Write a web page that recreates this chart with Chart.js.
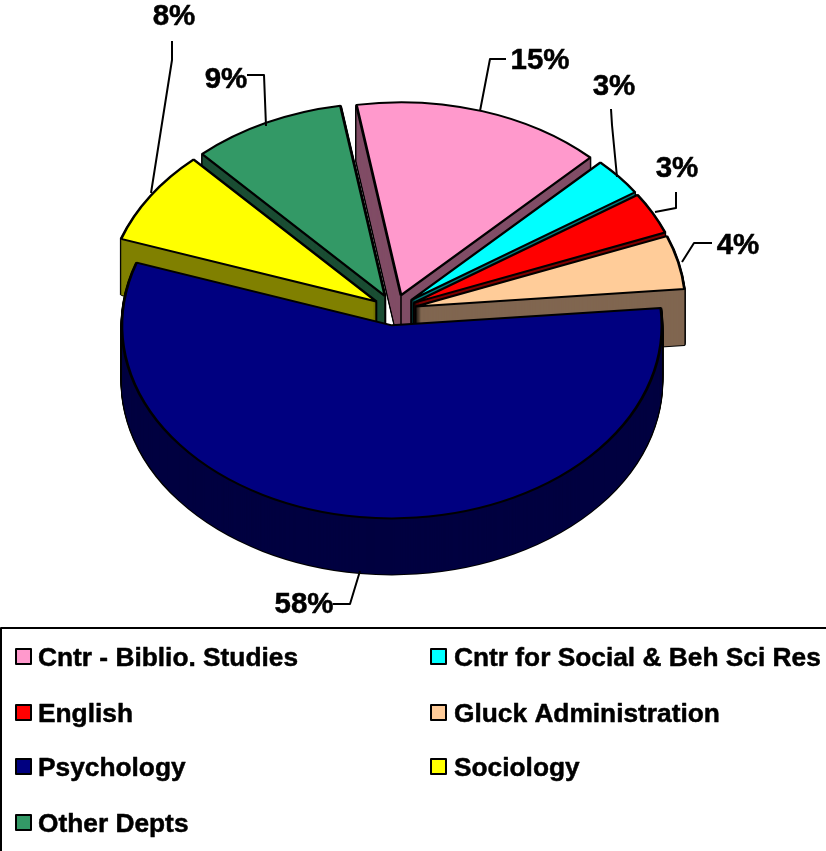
<!DOCTYPE html>
<html>
<head>
<meta charset="utf-8">
<style>html,body{margin:0;padding:0;background:#fff}canvas{display:block}</style>
<script src="https://cdn.jsdelivr.net/npm/chart.js@4"></script>
</head>
<body>
<canvas id="c" width="826" height="851"></canvas>
<script>
const categories = ['Cntr - Biblio. Studies','Cntr for Social & Beh Sci Res','English','Gluck Administration','Psychology','Sociology','Other Depts'];
const values = [15,3.2,3.5,4.5,56.7,7.9,9.2];
const percentLabels = ['15%','3%','3%','4%','58%','8%','9%'];
const faceColors = ['#FF99CC','#00FFFF','#FF0000','#FFCC99','#000080','#FFFF00','#339966'];
const wallColors = ['#804D66','#008080','#800000','#806650','#000040','#808000','#1A4D33'];

const drawOrder = [0,6,1,5,2,3,4];
const SQUASH = 0.715, DEPTH = 56, EXPLODE = 21.6, FONT = '"Liberation Sans", Arial, sans-serif';
const labelLayout = [
  {x:540,y:61,line:[[506,59],[490,59],[480,111]]},
  {x:614,y:87,line:[[611,109],[612,125],[617,177]]},
  {x:677,y:169,line:[[676,192],[676,208],[655,212]]},
  {x:738,y:246,line:[[712,243],[694,243],[682,262]]},
  {x:304,y:605,line:[[333,604],[350,604],[360,571]]},
  {x:174,y:17,line:[[172,41],[172,60],[151,193]]},
  {x:226,y:80,line:[[247,75],[264,75],[266,126]]}
];
const legendCols = [16,431], legendRows = [657,713,767,823];

function place(ctx, arc, k){
  const mid = (arc.startAngle + arc.endAngle) / 2;
  ctx.translate(Math.cos(mid)*EXPLODE, Math.sin(mid)*EXPLODE*SQUASH + k);
  ctx.translate(arc.x, arc.y); ctx.scale(1, SQUASH); ctx.translate(-arc.x, -arc.y);
}
function paint(ctx, arc, k, fill, stroke, width){
  const base = arc.options;
  arc.options = Object.create(base, {
    backgroundColor:{value:fill}, borderColor:{value:stroke}, borderWidth:{value:width}
  });
  ctx.save(); place(ctx, arc, k); arc.draw(ctx); ctx.restore();
  arc.options = base;
}
function apexPoint(arc){
  const mid = (arc.startAngle + arc.endAngle) / 2;
  return [arc.x + Math.cos(mid)*EXPLODE, arc.y + Math.sin(mid)*EXPLODE*SQUASH];
}
const pie3d = {
  id:'pie3d',
  beforeDatasetsDraw(chart){
    const ctx = chart.ctx, arcs = chart.getDatasetMeta(0).data;
    drawOrder.forEach(i => {
      const arc = arcs[i];
      for (let k = DEPTH; k >= 1; k--) paint(ctx, arc, k, '#000', '#000', 2.8);
      for (let k = DEPTH; k >= 1; k--) paint(ctx, arc, k, wallColors[i], wallColors[i], 0);
      const p = apexPoint(arc);
      ctx.save();
      ctx.strokeStyle = '#000'; ctx.lineWidth = 1.5;
      ctx.beginPath(); ctx.moveTo(p[0],p[1]); ctx.lineTo(p[0],p[1]+DEPTH); ctx.stroke();
      ctx.restore();
      paint(ctx, arc, 0, faceColors[i], '#000', 2.8);
    });
    return false;
  },
  afterDraw(chart){
    const ctx = chart.ctx;
    ctx.save();
    ctx.strokeStyle = '#000'; ctx.lineWidth = 2; ctx.lineJoin = 'round';
    labelLayout.forEach(l => {
      ctx.beginPath();
      l.line.forEach((p,j) => j ? ctx.lineTo(p[0],p[1]) : ctx.moveTo(p[0],p[1]));
      ctx.stroke();
    });
    ctx.fillStyle = '#000'; ctx.textAlign = 'center'; ctx.textBaseline = 'middle';
    ctx.font = 'bold 29.5px ' + FONT;
    ctx.lineWidth = 0.5;
    percentLabels.forEach((t,i) => {
      ctx.fillText(t, labelLayout[i].x, labelLayout[i].y);
      ctx.strokeText(t, labelLayout[i].x, labelLayout[i].y);
    });
    // legend box
    ctx.lineWidth = 2;
    ctx.strokeRect(1, 628, 826, 224);
    ctx.textAlign = 'left';
    ctx.font = 'bold 26.3px ' + FONT;
    chart.data.labels.forEach((t,i) => {
      const col = legendCols[i % 2], y = legendRows[Math.floor(i/2)];
      ctx.fillStyle = faceColors[i];
      ctx.lineWidth = 2;
      ctx.fillRect(col, y-8, 15, 15);
      ctx.strokeRect(col, y-8, 15, 15);
      ctx.fillStyle = '#000';
      ctx.lineWidth = 0.5;
      const tx = col + (i % 2 ? 23 : 22);
      ctx.fillText(t, tx, y+2);
      ctx.strokeText(t, tx, y+2);
    });
    ctx.restore();
  }
};
new Chart(document.getElementById('c'), {
  type:'pie',
  data:{labels:categories, datasets:[{data:values, backgroundColor:faceColors, borderColor:'#000', borderWidth:2}]},
  options:{
    responsive:false, animation:false, rotation:-9.5, radius:270,
    layout:{padding:{left:0,right:37,top:0,bottom:231}},
    plugins:{legend:{display:false},tooltip:{enabled:false}}
  },
  plugins:[pie3d]
});
</script>
</body>
</html>
